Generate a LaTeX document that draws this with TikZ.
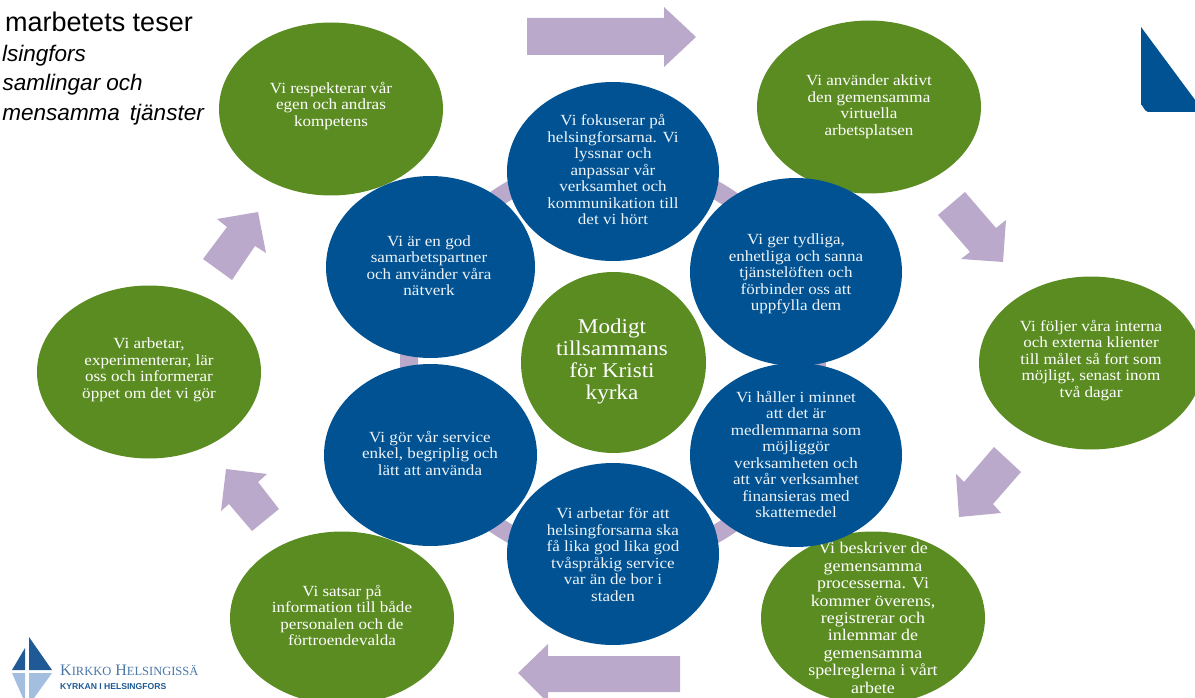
\documentclass[tikz,border=0pt]{standalone}
\usepackage{fontspec}
\setmainfont{Liberation Serif}[FakeStretch=1.1]
\setsansfont{Liberation Sans}
\newfontfamily\logoserif{Liberation Serif}
\usetikzlibrary{shapes.geometric}
\definecolor{cgreen}{HTML}{5B8C22}
\definecolor{cblue}{HTML}{005293}
\definecolor{cpurple}{HTML}{BBA9CC}
\definecolor{ltxt}{HTML}{EEF3F8}
\definecolor{logodark}{HTML}{1F5A96}
\definecolor{logolight}{HTML}{A3BEDF}
\definecolor{logotxt}{HTML}{4A78A8}
\tikzset{
  blob/.style={ellipse,inner sep=0pt,minimum width=#1},
  greenblob/.style={blob=224pt,minimum height=173pt,fill=cgreen},
  blueblob/.style={blob=212pt,minimum height=182pt,fill=cblue},
  txt/.style={align=center,inner sep=0pt,text=white,font=\fontsize{15.5}{16.5}\selectfont},
  txtblue/.style={txt,text=ltxt},
  bigtxt/.style={align=center,inner sep=0pt,text=white,font=\fontsize{21}{22}\selectfont},
  blockarrow/.style={fill=cpurple},
  headline/.style={anchor=base east,inner sep=0pt,text=black,font=\sffamily\fontsize{27}{27}\selectfont},
  subline/.style={anchor=base east,inner sep=0pt,text=black,font=\sffamily\itshape\fontsize{22.5}{22.5}\selectfont},
}
\begin{document}
\begin{tikzpicture}[x=1pt,y=-1pt]
\clip (0,0) rectangle (1195,698);
\fill[white] (0,0) rectangle (1195,698);
% title
\node[headline] (t1) at (193,32) {marbetets teser};
\node[subline] (t2) at (86,62) {lsingfors};
\node[subline] (t3) at (143,91) {samlingar och};
\node[subline] (t4) at (204,121) {mensamma\, tjänster};
% corner triangle
\fill[cblue] (1141,27) -- (1204,112) -- (1148,112) to[out=180,in=90] (1141,105) -- cycle;
% logo
\fill[logodark] (29,637) -- (52,670) -- (29,670) -- cycle;
\fill[logodark] (25,648) -- (25,670) -- (12,670) -- cycle;
\fill[logolight] (12,673) -- (25,673) -- (25,698) -- (23,698) -- cycle;
\fill[logolight] (29,673) -- (52,673) -- (34,698) -- (29,698) -- cycle;
\node[anchor=base west,inner sep=0pt,text=logotxt,font=\logoserif\fontsize{16}{16}\selectfont] (lg1) at (60,675) {K{\fontsize{12.5}{12.5}\selectfont IRKKO} H{\fontsize{12.5}{12.5}\selectfont ELSINGISSÄ}};
\node[anchor=base west,inner sep=0pt,text=logodark,font=\sffamily\bfseries\fontsize{8.6}{9}\selectfont] (lg2) at (60,689) {KYRKAN I HELSINGFORS};
% block arrows
\fill[blockarrow] (527,18) -- (664,18) -- (664,7) -- (696,37) -- (664,67) -- (664,55) -- (527,55) -- cycle;
\fill[blockarrow] (965,192) -- (996,228) -- (1006,220) -- (1003,262) -- (961,259) -- (970,252) -- (938,215) -- cycle;
\fill[blockarrow] (994,447) -- (1021,472) -- (993,504) -- (1001,513) -- (959,517) -- (956,474) -- (964,482) -- cycle;
\fill[blockarrow] (680,656) -- (548,656) -- (548,644) -- (518,673) -- (548,703) -- (548,692) -- (680,692) -- cycle;
\fill[blockarrow] (279,509) -- (258,482) -- (267,474) -- (226,469) -- (221,511) -- (229,504) -- (252,531) -- cycle;
\fill[blockarrow] (203,259) -- (227,227) -- (217,219) -- (258,212) -- (266,253) -- (255,246) -- (232,280) -- cycle;
% ring behind the inner circles
\draw[cpurple,line width=18pt] (613,362) ellipse [x radius=204,y radius=199];
% outer green circles
\node[greenblob] (g1) at (331,109) {};
\node[txt] (g1t) at (331,106) {Vi respekterar vår\\egen och andras\\kompetens};
\node[greenblob] (g2) at (869,107) {};
\node[txt] (g2t) at (869,107) {Vi använder aktivt\\den gemensamma\\virtuella\\arbetsplatsen};
\node[greenblob] (g3) at (1091,363) {};
\node[txt] (g3t) at (1091,360.5) {Vi följer våra interna\\och externa klienter\\till målet så fort som\\möjligt, senast inom\\två dagar};
\node[greenblob] (g4) at (873,618) {};
\node[txt,font=\fontsize{16.3}{17.4}\selectfont] (g4t) at (873,618) {Vi beskriver de\\gemensamma\\processerna. Vi\\kommer överens,\\registrerar och\\inlemmar de\\gemensamma\\spelreglerna i vårt\\arbete};
\node[greenblob] (g5) at (342,618) {};
\node[txt] (g5t) at (342,615.5) {Vi satsar på\\information till både\\personalen och de\\förtroendevalda};
\node[greenblob] (g6) at (149,372) {};
\node[txt] (g6t) at (149,370) {Vi arbetar,\\experimenterar, lär\\oss och informerar\\öppet om det vi gör};
% centre
\node[blob=185pt,minimum height=181pt,fill=cgreen] (c) at (613.5,362.5) {};
\node[bigtxt] (ct) at (612,361) {Modigt\\tillsammans\\för Kristi\\kyrka};
% inner blue circles
\node[blueblob,minimum height=179pt] (b1) at (613,171.5) {};
\node[txtblue] (b1t) at (613,169.5) {Vi fokuserar på\\helsingforsarna. Vi\\lyssnar och\\anpassar vår\\verksamhet och\\kommunikation till\\det vi hört};
\node[blueblob,minimum height=188pt] (b2) at (796,272) {};
\node[txtblue] (b2t) at (796,274) {Vi ger tydliga,\\enhetliga och sanna\\tjänstelöften och\\förbinder oss att\\uppfylla dem};
\node[blueblob,minimum height=184pt] (b3) at (796,455) {};
\node[txtblue] (b3t) at (796,454.5) {Vi håller i minnet\\att det är\\medlemmarna som\\möjliggör\\verksamheten och\\att vår verksamhet\\finansieras med\\skattemedel};
\node[blueblob] (b4) at (613,554) {};
\node[txtblue] (b4t) at (613,554.5) {Vi arbetar för att\\helsingforsarna ska\\få lika god lika god\\tvåspråkig service\\var än de bor i\\staden};
\node[blueblob,minimum width=213pt] (b5) at (430.5,455) {};
\node[txtblue] (b5t) at (430,453) {Vi gör vår service\\enkel, begriplig och\\lätt att använda};
\node[blueblob,minimum width=209pt] (b6) at (430.5,267) {};
\node[txtblue] (b6t) at (429,265.5) {Vi är en god\\samarbetspartner\\och använder våra\\nätverk};
\end{tikzpicture}
\end{document}
